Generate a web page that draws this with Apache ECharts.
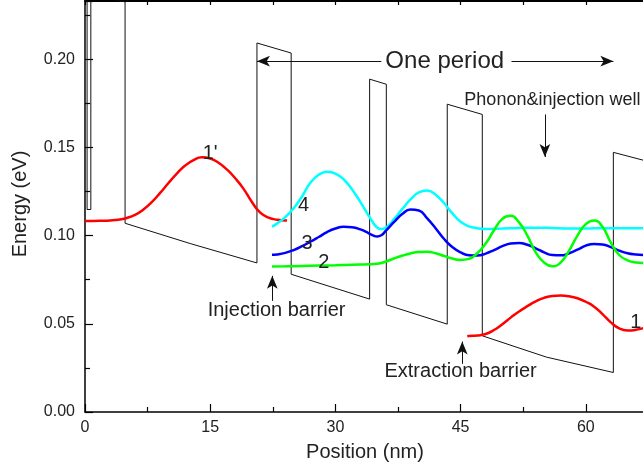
<!DOCTYPE html>
<html><head><meta charset="utf-8">
<script src="https://cdn.jsdelivr.net/npm/echarts@6/dist/echarts.min.js"></script>
<style>html,body{margin:0;padding:0;background:#fff}#c{width:643px;height:470px}</style>
</head><body><div id="c"></div>
<script>
// Conduction band profile (x in nm, energy in eV)
const profileX = [0.25, 0.25, 0.7, 0.7, 4.8, 4.8, 12.6, 20.6, 20.6, 24.7, 24.7, 34.1, 34.1, 36.1, 36.1, 43.4, 43.4, 47.6, 47.6, 55.3, 63.3, 63.3, 67.0];
const profileY = [0.26, 0.1148, 0.1148, 0.2365, 0.2325, 0.107, 0.0955, 0.0845, 0.2092, 0.2035, 0.0781, 0.064, 0.1887, 0.1858, 0.0608, 0.0498, 0.1745, 0.1687, 0.0432, 0.0311, 0.0224, 0.1472, 0.1426];

// Wavefunctions
const red1pX = [0, 1, 2, 3, 4, 5, 6, 7, 8, 9, 10, 11, 12, 13, 14, 15, 16, 17, 18, 19, 20, 21, 22, 23, 24, 24.2];
const red1pY = [0.1083, 0.1083, 0.1084, 0.1086, 0.1090, 0.1100, 0.1118, 0.1148, 0.1190, 0.1242, 0.1298, 0.1352, 0.1397, 0.1428, 0.1444, 0.1437, 0.1413, 0.1375, 0.1325, 0.1265, 0.1190, 0.1130, 0.1102, 0.1090, 0.1086, 0.1085];

const cyanX = [22.4, 23, 24, 25, 26, 27, 28, 29, 30, 31, 32, 33, 34, 34.5, 35, 35.5, 36, 36.5, 37, 38, 39, 40, 41, 42, 43, 44, 45, 46, 47, 48, 50, 52, 54, 56, 58, 60, 62, 64, 66, 67];
const cyanY = [0.1051, 0.1068, 0.1105, 0.1155, 0.1222, 0.1300, 0.1345, 0.1362, 0.1352, 0.1318, 0.1262, 0.1190, 0.1112, 0.1074, 0.1046, 0.1037, 0.1044, 0.1063, 0.1092, 0.1150, 0.1205, 0.1245, 0.1255, 0.1232, 0.1185, 0.1127, 0.1078, 0.1052, 0.1042, 0.1038, 0.1040, 0.1043, 0.1045, 0.1043, 0.1040, 0.1040, 0.1042, 0.1042, 0.1041, 0.1041];

const blueX = [22.4, 23, 24, 25, 26, 27, 28, 29, 30, 31, 32, 33, 34, 34.5, 35, 35.5, 36, 37, 38, 39, 40, 41, 42, 43, 44, 45, 46, 47, 48, 49, 50, 51, 52, 53, 54, 55, 56, 57, 58, 59, 60, 61, 62, 63, 64, 65, 66, 67];
const blueY = [0.0891, 0.0893, 0.0902, 0.0918, 0.0940, 0.0965, 0.0992, 0.1020, 0.1040, 0.1050, 0.1048, 0.1035, 0.1013, 0.1001, 0.0995, 0.1002, 0.1025, 0.1076, 0.1122, 0.1148, 0.1142, 0.1098, 0.1042, 0.0982, 0.0935, 0.0905, 0.0888, 0.0887, 0.0898, 0.0918, 0.0940, 0.0955, 0.0958, 0.0948, 0.0928, 0.0905, 0.0890, 0.0888, 0.0900, 0.0920, 0.0943, 0.0953, 0.0950, 0.0935, 0.0915, 0.0900, 0.0893, 0.0890];

const greenX = [22.4, 24, 26, 28, 30, 32, 34, 35, 36, 37, 38, 39, 40, 41, 42, 43, 44, 45, 46, 47, 48, 49, 50, 51, 52, 53, 54, 55, 56, 57, 58, 59, 60, 61, 62, 63, 64, 65, 66, 67];
const greenY = [0.0825, 0.0826, 0.0828, 0.0830, 0.0832, 0.0835, 0.0837, 0.0840, 0.0852, 0.0870, 0.0886, 0.0899, 0.0907, 0.0908, 0.0900, 0.0885, 0.0870, 0.0862, 0.0868, 0.0900, 0.0955, 0.1030, 0.1095, 0.1112, 0.1075, 0.1000, 0.0905, 0.0848, 0.0826, 0.0848, 0.0915, 0.1000, 0.1065, 0.1085, 0.1050, 0.0960, 0.0890, 0.0860, 0.0848, 0.0845];

const red1X = [45.8, 46, 47, 48, 49, 50, 51, 52, 53, 54, 55, 56, 57, 58, 59, 60, 61, 62, 63, 64, 65, 66, 67];
const red1Y = [0.0430, 0.0431, 0.0434, 0.0442, 0.0465, 0.0498, 0.0535, 0.0570, 0.0600, 0.0627, 0.0647, 0.0658, 0.0660, 0.0656, 0.0645, 0.0625, 0.0597, 0.0555, 0.0508, 0.0474, 0.0462, 0.0466, 0.0477];

// Axis settings
const xMin = 0, xMax = 75, xInterval = 15;
const yMin = 0, yMax = 0.233, yInterval = 0.05;

// Annotations: [text, x, y, fontSize]
const labels = [
  ["One period", 43.1, 0.1989, 24],
  ["Phonon&injection well", 56.0, 0.1768, 18],
  ["Injection barrier", 22.95, 0.0573, 20],
  ["Extraction barrier", 45.0, 0.0229, 20],
  ["1'", 15.0, 0.1468, 20],
  ["4", 26.2, 0.1168, 20],
  ["3", 26.6, 0.0953, 20],
  ["2", 28.6, 0.0845, 20],
  ["1", 66.0, 0.0505, 20]
];
// Arrows: [x1, y1, x2, y2] (head at second point)
const arrows = [
  [35.5, 0.1989, 20.6, 0.1989],
  [51.1, 0.1989, 63.3, 0.1989],
  [55.1, 0.1687, 55.1, 0.1446],
  [22.44, 0.063, 22.44, 0.0772],
  [45.2, 0.0273, 45.2, 0.0399]
];

const FONT = "'Liberation Sans', Arial, sans-serif";
const TXT = '#222';
const zip = (a, b) => a.map((v, i) => [v, b[i]]);

const chart = echarts.init(document.getElementById('c'), null, {renderer: 'canvas'});

const axisCommon = {
  type: 'value', min: xMin, max: xMax, interval: xInterval,
  splitLine: {show: false}
};

const wave = (name, xs, ys, color) => ({
  name, type: 'line', data: zip(xs, ys), smooth: 0.5, showSymbol: false, symbol: 'none',
  lineStyle: {color, width: 2.5}, z: 3, clip: true
});

const option = {
  animation: false,
  backgroundColor: '#fff',
  grid: {left: 85, top: 1, width: 626, height: 411, containLabel: false, outerBoundsMode: 'none'},
  xAxis: [
    Object.assign({}, axisCommon, {
      position: 'bottom',
      axisLine: {show: true, onZero: false, lineStyle: {color: '#000', width: 1.5}},
      axisTick: {show: true, inside: true, length: 8, lineStyle: {color: '#000', width: 1.2}},
      minorTick: {show: true, splitNumber: 2, length: 5, lineStyle: {color: '#000', width: 1.2}},
      axisLabel: {show: true, fontSize: 16, color: TXT, fontFamily: FONT, margin: 8}
    }),
    Object.assign({}, axisCommon, {
      position: 'top',
      axisLine: {show: true, onZero: false, lineStyle: {color: '#000', width: 2}},
      axisTick: {show: true, inside: true, length: 4, lineStyle: {color: '#000', width: 1.2}},
      minorTick: {show: true, splitNumber: 2, length: 4, lineStyle: {color: '#000', width: 1.2}},
      axisLabel: {show: false}
    })
  ],
  yAxis: [{
    type: 'value', min: yMin, max: yMax, interval: yInterval,
    splitLine: {show: false},
    axisLine: {show: true, onZero: false, lineStyle: {color: '#000', width: 1.5}},
    axisTick: {show: true, inside: true, length: 8, lineStyle: {color: '#000', width: 1.2}},
    minorTick: {show: true, splitNumber: 2, length: 5, lineStyle: {color: '#000', width: 1.2}},
    axisLabel: {show: true, fontSize: 16, color: TXT, fontFamily: FONT, margin: 10,
      showMaxLabel: false, formatter: v => v.toFixed(2)}
  }],
  series: [
    {
      name: 'profile', type: 'line', data: zip(profileX, profileY), showSymbol: false, symbol: 'none',
      lineStyle: {color: '#111', width: 1}, z: 2, clip: true,
      markLine: {
        silent: true, animation: false, symbol: ['none', 'arrow'], symbolSize: [8, 13],
        label: {show: false},
        lineStyle: {color: '#111', width: 1, type: 'solid'},
        emphasis: {disabled: true},
        data: arrows.map(a => [{coord: [a[0], a[1]]}, {coord: [a[2], a[3]]}])
      }
    },
    wave("1'", red1pX, red1pY, '#ff0000'),
    wave('4', cyanX, cyanY, '#00ffff'),
    wave('3', blueX, blueY, '#0000ff'),
    wave('2', greenX, greenY, '#00ff00'),
    wave('1', red1X, red1Y, '#ff0000')
  ]
};
chart.setOption(option);

const toPx = (x, y) => chart.convertToPixel({xAxisIndex: 0, yAxisIndex: 0}, [x, y]);
const graphics = labels.map(l => {
  const p = toPx(l[1], l[2]);
  return {type: 'text', x: p[0], y: p[1], z: 10,
    style: {text: l[0], fill: TXT, font: l[3] + 'px ' + FONT, align: 'center', verticalAlign: 'middle'}};
});
graphics.push({type: 'text', x: 365, y: 452, z: 10,
  style: {text: 'Position (nm)', fill: TXT, font: '20px ' + FONT, align: 'center', verticalAlign: 'middle'}});
graphics.push({type: 'text', x: 20, y: 204, rotation: Math.PI / 2, z: 10,
  style: {text: 'Energy (eV)', fill: TXT, font: '20px ' + FONT, align: 'center', verticalAlign: 'middle'}});
chart.setOption({graphic: graphics});
</script>
</body></html>
